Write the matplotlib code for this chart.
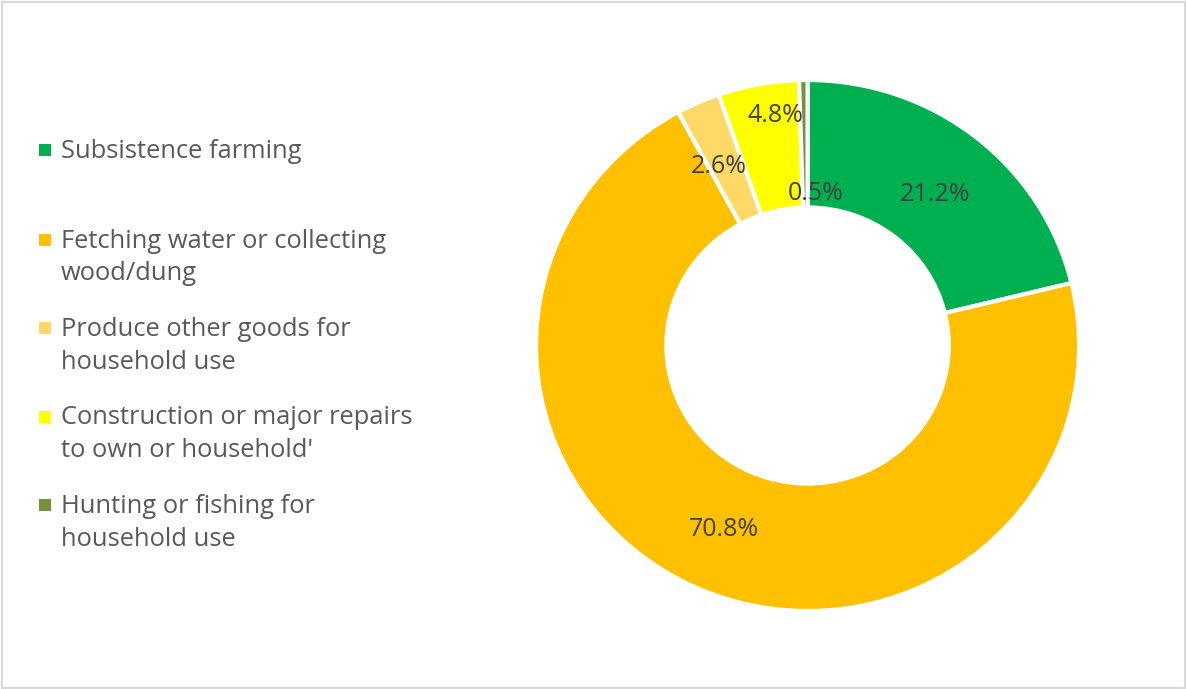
import numpy as np
import matplotlib.pyplot as plt
from matplotlib.patches import Rectangle

plt.rcParams['font.family'] = ['Open Sans', 'DejaVu Sans']

# data
categories = ['Subsistence farming',
              'Fetching water or collecting\nwood/dung',
              'Produce other goods for\nhousehold use',
              'Construction or major repairs\nto own or household\'',
              'Hunting or fishing for\nhousehold use']
shares = [21.2, 70.8, 2.6, 4.8, 0.5]
colors = ['#00B050', '#FFC000', '#FFD966', '#FFFF00', '#76923C']

fig = plt.figure(figsize=(11.87, 6.89), dpi=100)

# donut (the original is very slightly wider than tall, so aspect is left free)
ax = fig.add_axes([0.4516, 0.1132, 0.4575, 0.7707])
wedges, _ = ax.pie(shares, colors=colors, startangle=90, counterclock=False,
                   radius=1.0, wedgeprops=dict(width=0.48, edgecolor='white', linewidth=3))
ax.set_xlim(-1, 1)
ax.set_ylim(-1, 1)
ax.set_aspect('auto')
ax.axis('off')

# data labels in the middle of the ring, small ones nudged like Excel does
nudges = {0: (0, -8), 2: (-6, -6), 3: (5, 32), 4: (11, -50)}
r_mid = 1 - 0.48 / 2
for i, w in enumerate(wedges):
    ang = np.deg2rad((w.theta1 + w.theta2) / 2)
    x, y = r_mid * np.cos(ang), r_mid * np.sin(ang)
    dx, dy = nudges.get(i, (0, 0))
    ax.annotate(f'{shares[i]:.1f}%', (x, y), xytext=(dx, dy), textcoords='offset pixels',
                ha='center', va='center', fontsize=18, color='#404040')

# legend drawn by hand so markers line up with the first line of text
lax = fig.add_axes([0, 0, 1, 1])
lax.set_xlim(0, 1187)
lax.set_ylim(689, 0)
lax.axis('off')
y0, step = 150, 88.5
for i, lab in enumerate(categories):
    y = y0 + i * step + (1 if i else 0)
    lax.scatter([45], [y], marker='s', s=70, color=colors[i], linewidths=0)
    lax.text(61, y - 11, lab, ha='left', va='top', fontsize=18.4,
             color='#595959', linespacing=1.4)

# chart border
fig.patches.append(Rectangle((0.002, 0.002), 0.996, 0.995, transform=fig.transFigure,
                             fill=False, edgecolor='#D9D9D9', linewidth=1.5))

fig.savefig('out.png', dpi=100)
